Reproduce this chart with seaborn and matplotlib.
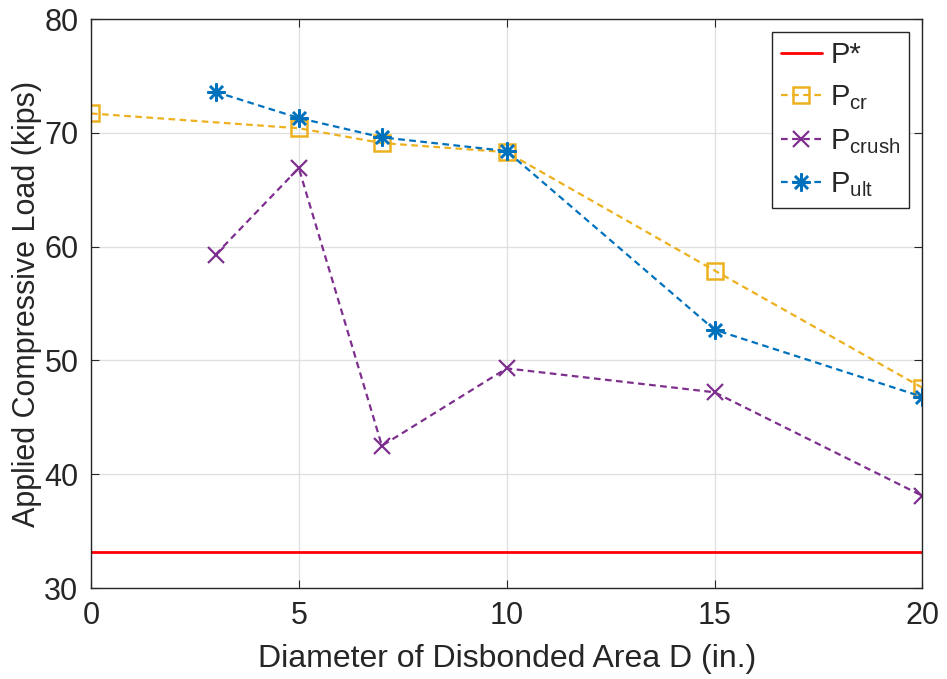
import matplotlib
matplotlib.use('Agg')
from matplotlib import pyplot as plt
import seaborn as sns
import pandas as pd

# values
p_star = 33.2
d_cr = [0, 5, 7, 10, 15, 20]
p_cr = [71.7, 70.4, 69.1, 68.3, 57.9, 47.6]
d_crush = [3, 5, 7, 10, 15, 20]
p_crush = [59.3, 66.9, 42.5, 49.3, 47.2, 38.1]
d_ult = [3, 5, 7, 10, 15, 20]
p_ult = [73.6, 71.3, 69.6, 68.4, 52.7, 46.8]

x_ticks = [0, 5, 10, 15, 20]
y_ticks = [30, 40, 50, 60, 70, 80]

sns.set_style('ticks')
plt.rcParams['font.family'] = ['Liberation Sans', 'DejaVu Sans']
plt.rcParams['mathtext.default'] = 'regular'

fig = plt.figure(figsize=(9.47, 6.79), dpi=100)
ax = fig.add_axes([0.096, 0.134, 0.878, 0.838])

star = pd.DataFrame({'d': [0, 20], 'p': [p_star, p_star]})
cr = pd.DataFrame({'d': d_cr, 'p': p_cr})
crush = pd.DataFrame({'d': d_crush, 'p': p_crush})
ult = pd.DataFrame({'d': d_ult, 'p': p_ult})

sns.lineplot(data=star, x='d', y='p', ax=ax, color='#FF0000', lw=2, label='P*', sort=False)
sns.lineplot(data=cr, x='d', y='p', ax=ax, color='#EDB120', lw=1.6,
             linestyle=(0, (3, 2)), marker='s', ms=11, mfc='none', mec='#EDB120', mew=1.8,
             label=r'P$_{cr}$', sort=False)
sns.lineplot(data=crush, x='d', y='p', ax=ax, color='#7E2F8E', lw=1.6,
             linestyle=(0, (3, 2)), marker='x', ms=11, mec='#7E2F8E', mew=1.6,
             label=r'P$_{crush}$', sort=False)
sns.lineplot(data=ult, x='d', y='p', ax=ax, color='#0072BD', lw=1.6,
             linestyle=(0, (3, 2)), marker=(8, 2, 0), ms=13, mec='#0072BD', mew=1.8,
             label=r'P$_{ult}$', sort=False)

ax.set_xlim(0, 20)
ax.set_ylim(30, 80)
ax.set_xticks(x_ticks)
ax.set_yticks(y_ticks)
ax.grid(True, color='#DFDFDF', lw=0.9)
ax.tick_params(direction='in', top=True, right=True, labelsize=22, length=6,
               color='#262626', pad=9)
for s in ax.spines.values():
    s.set_color('#262626')
    s.set_linewidth(1.0)
ax.set_xlabel('Diameter of Disbonded Area D (in.)', fontsize=23, color='#262626', labelpad=10)
ax.set_ylabel('Applied Compressive Load (kips)', fontsize=22, color='#262626', labelpad=2)
for lbl in ax.get_xticklabels() + ax.get_yticklabels():
    lbl.set_color('#262626')

leg = ax.legend(loc='upper right', fontsize=21, frameon=True, fancybox=False,
                edgecolor='#262626', framealpha=1, handlelength=1.4,
                handletextpad=0.3, borderpad=0.3, borderaxespad=0.45, labelspacing=0.5)
leg.get_frame().set_linewidth(1.0)

fig.savefig('out.png', dpi=100)
